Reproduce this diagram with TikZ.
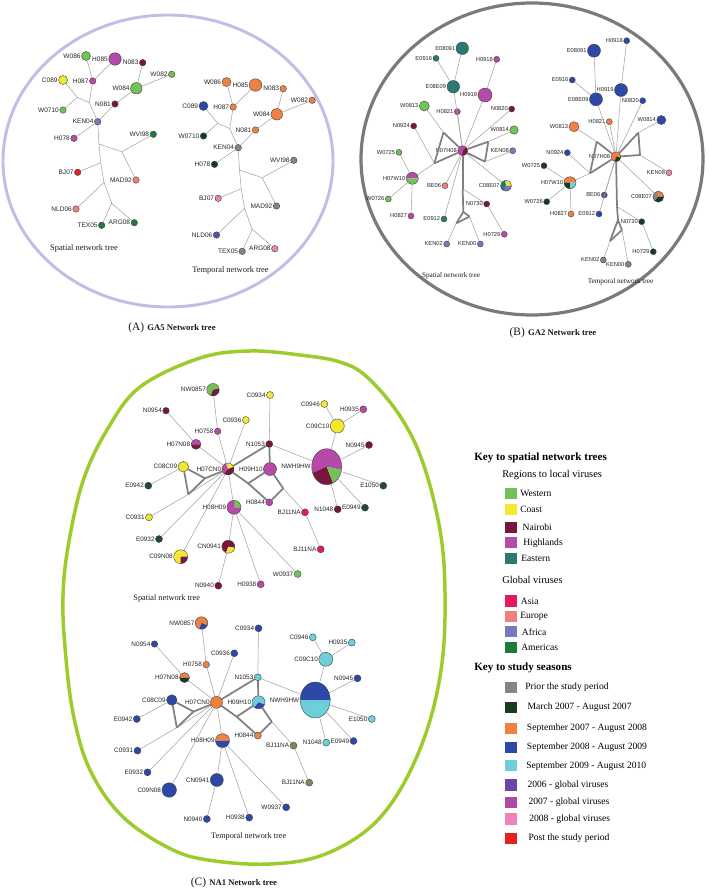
\documentclass[tikz,border=0pt]{standalone}
\usepackage{fontspec}
\setmainfont{Liberation Serif}
\setsansfont{Liberation Sans}
\usetikzlibrary{shapes.geometric}
\definecolor{cW}{HTML}{72C25A}
\definecolor{cC}{HTML}{F2E830}
\definecolor{cN}{HTML}{7A1540}
\definecolor{cH}{HTML}{B54AA8}
\definecolor{cE}{HTML}{2A7A72}
\definecolor{cE2}{HTML}{1F4D2E}
\definecolor{cAs}{HTML}{E8185A}
\definecolor{cEu}{HTML}{F08080}
\definecolor{cAf}{HTML}{7A78C0}
\definecolor{cAm}{HTML}{1E7A3C}
\definecolor{sP}{HTML}{858585}
\definecolor{s07}{HTML}{1A3A20}
\definecolor{s78}{HTML}{F28040}
\definecolor{s89}{HTML}{2E48A8}
\definecolor{s90}{HTML}{6CCFDA}
\definecolor{g06}{HTML}{6A48A8}
\definecolor{g07}{HTML}{B048A8}
\definecolor{g08}{HTML}{EE82BA}
\definecolor{sPo}{HTML}{E82020}
\definecolor{cOl}{HTML}{7D8C55}
\definecolor{ringA}{HTML}{C4BDE3}
\definecolor{ringB}{HTML}{7A7A7A}
\definecolor{ringC}{HTML}{9CCB2C}
% node: name, x, y, width px, height px, wedges, label
\newcommand\vn[7]{%
  \foreach \wa/\wb/\wc in {#6}{%
    \fill[\wc] (#2,#3) -- ++(\wa:#4*0.375pt and #5*0.375pt)
      arc[start angle=\wa, end angle=\wb, x radius=#4*0.375pt, y radius=#5*0.375pt] -- cycle;}%
  \node[vnd, minimum width=#4*0.75pt, minimum height=#5*0.75pt, label={[lbl]left:#7}] (#1) at (#2,#3) {};%
}
\newcommand\vc[6]{\vn{#1}{#2}{#3}{#4}{#4}{0/360/#5}{#6}}
\def\lbsz{4.9}
% ---------- panel A helpers
\newcommand\coordsA[1]{%
  \coordinate (#1J1) at (77.3,97.3);
  \coordinate (#1J2) at (89.3,102.7);
  \coordinate (#1T1) at (99,144);
  \coordinate (#1T1r) at (121.7,151.7);
  \coordinate (#1T2) at (100.7,162.7);
  \coordinate (#1T3) at (104,182.3);
  \coordinate (#1T4) at (111.7,203.3);
  \foreach \u/\v in {C089/J1, W0710/J1, J1/J2, H087/J2, KEN04/J2, H087/W086, H087/H085,
    KEN04/N081, N081/W084, W084/N083, W084/W082, KEN04/H078, KEN04/T1, T1/T1r,
    T1r/WVI98, T1r/MAD92, T1/T2, T2/BJ07, T2/T3, T3/NLD06, T3/T4, T4/TEX05, T4/ARG08}
    \draw[edg] (#1\u) -- (#1\v);
}
% ---------- panel C helpers
\newcommand\coordsC[1]{%
  \coordinate (#1Ja) at (248.2,483.4);
  \coordinate (#1Jb) at (283.2,488.4);
  \coordinate (#1Jr) at (205,478.3);
  \coordinate (#1Jbot) at (188.3,494.3);
  \foreach \u/\v in {NW0857/H0758, H0758/H07CN0, N0954/H07N08, H07N08/H07CN0, C0936/H07CN0,
    C0934/N1053, N1053/NWH9HW, Jb/BJa, BJa/BJb, NWH9HW/C09C10, C09C10/C0946, C09C10/H0935,
    NWH9HW/N0945, NWH9HW/E1050, NWH9HW/E0949, NWH9HW/N1048, H07CN0/H08H09, H08H09/CN0941,
    CN0941/N0940, H08H09/H0938, H08H09/W0937, C08C09/E0942, C0931/Jbot, Jbot/H07CN0,
    E0932/H07CN0, C09N08/H07CN0}
    \draw[edg] (#1\u) -- (#1\v);
  \foreach \u/\v in {H07CN0/N1053, N1053/H09H10, H07CN0/Ja, Ja/H09H10, Ja/H0844, H09H10/Jb,
    Jb/H0844, C08C09/Jr, Jr/H07CN0, C08C09/Jbot, Jbot/Jr}
    \draw[edgt] (#1\u) -- (#1\v);
}
\begin{document}
\begin{tikzpicture}[x=0.75pt,y=-0.75pt,
  vnd/.style={ellipse, draw=black!75, line width=0.3pt, inner sep=0pt, outer sep=0pt},
  lbl/.style={font=\sffamily\fontsize{\lbsz}{\lbsz}\selectfont, text=black!85, inner sep=0.5pt},
  edg/.style={draw=black!36, line width=0.4pt},
  edgt/.style={draw=black!50, line width=1.3pt},
  captxt/.style={inner sep=0pt, text=black!90},
  legh/.style={anchor=west, inner sep=0pt, font=\bfseries\fontsize{8.3}{9}\selectfont},
  legs/.style={anchor=west, inner sep=0pt, font=\fontsize{7.8}{9}\selectfont},
  legi/.style={anchor=west, inner sep=0pt, font=\fontsize{7.2}{9}\selectfont},
  swatch/.style={minimum width=9pt, minimum height=8.3pt, inner sep=0pt}]
\useasboundingbox (0,0) rectangle (709,889);
\fill[white] (0,0) rectangle (709,889);
% rings
\draw[ringA, line width=2.2pt] (168,161) ellipse [x radius=165, y radius=146];
\draw[ringB, line width=2.4pt] (532,159) ellipse [x radius=171, y radius=156];
\draw[ringC, line width=2.6pt] plot[smooth cycle, tension=0.6] coordinates {
 (250,351) (300,355) (340,362) (367,377) (400,416) (423,463) (440,530) (445,592)
 (442,663) (427,730) (400,790) (367,830) (320,856) (270,864) (215,861) (173,850)
 (123,817) (90,770) (73,713) (65,647) (63,597) (68,547) (83,481) (107,430)
 (140,387) (200,358)};
% ================= PANEL A spatial
\vc{asW086}{86}{56}{9}{cW}{W086}
\vc{asH085}{115}{59}{12.5}{cH}{H085}
\vc{asN083}{142.7}{62.7}{6.5}{cN}{N083}
\vc{asW082}{171.7}{74.3}{6.5}{cW}{W082}
\vc{asC089}{63}{80}{9}{cC}{C089}
\vc{asH087}{92.7}{81}{6.5}{cH}{H087}
\vc{asW084}{136.3}{88.3}{11.5}{cW}{W084}
\vc{asW0710}{63}{110}{6.5}{cW}{W0710}
\vc{asN081}{115}{104}{6.5}{cN}{N081}
\vc{asKEN04}{97.7}{121.7}{6.5}{cAf}{KEN04}
\vc{asH078}{74}{138.3}{6.5}{cH}{H078}
\vc{asWVI98}{153.3}{134.3}{6.5}{cAm}{WVI98}
\vc{asBJ07}{77.7}{172.3}{6.5}{sPo}{BJ07}
\vc{asMAD92}{136}{180}{6.5}{cEu}{MAD92}
\vc{asNLD06}{76}{209}{6.5}{cEu}{NLD06}
\vc{asTEX05}{101.7}{225.3}{6.5}{cAm}{TEX05}
\vc{asARG08}{134.3}{222.7}{6.5}{cAm}{ARG08}
\coordsA{as}
\node[captxt, font=\fontsize{6.3}{7}\selectfont] (asCap) at (84,248.7) {Spatial network tree};
% ================= PANEL A temporal
\begin{scope}[shift={(140.5,26)}]
\vc{atW086}{86}{56}{9}{s78}{W086}
\vc{atH085}{115}{59}{12.5}{s78}{H085}
\vc{atN083}{142.7}{62.7}{6.5}{s78}{N083}
\vc{atW082}{171.7}{74.3}{6.5}{s78}{W082}
\vc{atC089}{63}{80}{9}{s89}{C089}
\vc{atH087}{92.7}{81}{6.5}{s78}{H087}
\vc{atW084}{136.3}{88.3}{11.5}{s78}{W084}
\vc{atW0710}{63}{110}{6.5}{s07}{W0710}
\vc{atN081}{115}{104}{6.5}{s78}{N081}
\vc{atKEN04}{97.7}{121.7}{6.5}{sP}{KEN04}
\vc{atH078}{74}{138.3}{6.5}{s07}{H078}
\vc{atWVI98}{153.3}{134.3}{6.5}{sP}{WVI98}
\vc{atBJ07}{77.7}{172.3}{6.5}{g08}{BJ07}
\vc{atMAD92}{136}{180}{6.5}{sP}{MAD92}
\vc{atNLD06}{76}{209}{6.5}{g06}{NLD06}
\vc{atTEX05}{101.7}{225.3}{6.5}{sP}{TEX05}
\vc{atARG08}{134.3}{222.7}{6.5}{g08}{ARG08}
\coordsA{at}
\end{scope}
\node[captxt, font=\fontsize{6.3}{7}\selectfont] (atCap) at (230.5,270.7) {Temporal network tree};
\node[captxt] (titleA) at (172,328) {{\fontsize{8.5}{10}\selectfont (A)} {\bfseries\fontsize{6.5}{8}\selectfont GA5 Network tree}};
% ================= PANEL B spatial
\begin{scope}
\def\lbsz{4.3}
\vc{bsE08091}{462.3}{48.3}{12.5}{cE}{E08091}
\vc{bsE0916}{436}{58.3}{6}{cE}{E0916}
\vc{bsH0918}{496.7}{59.3}{6}{cH}{H0918}
\vc{bsE08E09}{453.3}{86.7}{12.5}{cE}{E08E09}
\vc{bsH0919}{485}{95}{14}{cH}{H0919}
\vc{bsW0813}{424.3}{106}{10}{cW}{W0813}
\vc{bsH0821}{457.3}{111.7}{6}{cH}{H0821}
\vc{bsN0820}{511.7}{109}{6}{cN}{N0820}
\vc{bsN0924}{413.7}{126}{6}{cN}{N0924}
\vc{bsW0814}{514}{130}{8.5}{cW}{W0814}
\vc{bsW0725}{399}{152.3}{6}{cW}{W0725}
\vn{bsN07H08}{462.7}{150.7}{10}{10}{45/260/cH,260/405/cN}{N07H08}
\vc{bsKEN08}{512.7}{150.7}{6}{cAf}{KEN08}
\vn{bsH07W10}{412.3}{178.3}{12}{12}{0/180/cH,180/360/cW}{H07W10}
\vc{bsBE06}{445}{185.7}{6}{cEu}{BE06}
\vn{bsC08E07}{506}{185.7}{11}{11}{0/100/cC,100/250/cE,250/360/cAf}{C08E07}
\vc{bsW0726}{388.3}{199}{6}{cW}{W0726}
\vc{bsN0730}{486.7}{204}{6}{cN}{N0730}
\vc{bsH0827}{411}{216}{6}{cH}{H0827}
\vc{bsE0912}{444}{219}{6}{cE}{E0912}
\vc{bsH0729}{504.3}{234.3}{6}{cH}{H0729}
\vc{bsKEN02}{446.7}{244}{6}{cAf}{KEN02}
\vc{bsKEN00}{480.3}{244}{6}{cAf}{KEN00}
\coordinate (bsL1) at (434.3,163.3);
\coordinate (bsL2) at (443.5,132.5);
\coordinate (bsR1) at (488.3,141.7);
\coordinate (bsR2) at (485,161.7);
\coordinate (bsB1) at (462.7,189);
\coordinate (bsB2) at (463.3,212);
\coordinate (bsB3) at (456.3,223.3);
\coordinate (bsB4) at (469.5,216.5);
\foreach \u/\v in {E08091/E08E09, E0916/E08E09, E08E09/N07H08, H0821/N07H08, H0918/H0919,
  H0919/N07H08, N0820/N07H08, W0813/L2, N0924/L1, H07W10/L1, H07W10/W0725, H07W10/W0726,
  H07W10/H0827, W0814/R1, KEN08/R2, BE06/N07H08, E0912/N07H08, C08E07/N07H08, B1/N0730,
  N0730/H0729, B3/KEN02, B4/KEN00}
  \draw[edg] (bs\u) -- (bs\v);
\foreach \u/\v in {L1/L2, L2/N07H08, L1/N07H08, N07H08/R1, R1/R2, R2/N07H08, N07H08/B1,
  B1/B2, B2/B3, B3/B4, B4/B2}
  \draw[edgt] (bs\u) -- (bs\v);
\end{scope}
\node[captxt, font=\fontsize{5.4}{6}\selectfont] (bsCap) at (451,276) {Spatial network tree};
% ================= PANEL B temporal
\begin{scope}
\def\lbsz{4.3}
\vc{btE08091}{594}{50.7}{13}{s89}{E08091}
\vc{btH0918}{626.7}{40.7}{6}{s89}{H0918}
\vc{btE0916}{572.3}{80}{6}{s89}{E0916}
\vc{btE08E09}{596}{99.3}{13}{s89}{E08E09}
\vc{btH0919}{621}{90}{13}{s89}{H0919}
\vc{btN0820}{642.7}{100.7}{6}{s89}{N0820}
\vc{btH0821}{609.3}{121.7}{6}{s78}{H0821}
\vc{btW0813}{574}{126.7}{10}{s78}{W0813}
\vc{btW0814}{661.3}{120}{9}{s89}{W0814}
\vc{btN0924}{567.3}{152.7}{6}{s89}{N0924}
\vn{btN07H08}{616}{156.7}{10}{10}{-10/255/s78,255/350/s07}{N07H08}
\vc{btW0725}{544}{165.7}{6}{s07}{W0725}
\vc{btKEN08}{669}{172.7}{6}{g08}{KEN08}
\vn{btH07W10}{570}{182.7}{12}{12}{0/180/s78,180/270/s07,270/360/s90}{H07W10}
\vc{btBE06}{604.3}{195}{6}{g06}{BE06}
\vn{btC08E07}{658.3}{196.7}{11}{11}{0/110/s78,110/230/sP,230/360/s07}{C08E07}
\vc{btW0726}{546.7}{201.7}{6}{s07}{W0726}
\vc{btH0827}{571}{214}{6}{s78}{H0827}
\vc{btE0912}{599}{214}{6}{s89}{E0912}
\vc{btN0730}{641.7}{221.7}{6}{s07}{N0730}
\vc{btH0729}{653.3}{251.7}{6}{s07}{H0729}
\vc{btKEN02}{603.3}{260}{6}{sP}{KEN02}
\vc{btKEN00}{628.3}{264.3}{6}{sP}{KEN00}
\coordinate (btL1) at (590,173.3);
\coordinate (btL2) at (596.7,141.7);
\coordinate (btR1) at (638.3,132.7);
\coordinate (btR2) at (640,155);
\coordinate (btB1) at (617,206.7);
\coordinate (btB2) at (618,220);
\coordinate (btB3) at (610,241);
\coordinate (btB4) at (622,230);
\foreach \u/\v in {E08091/E08E09, E0916/E08E09, E08E09/N07H08, H0821/N07H08, H0918/H0919,
  H0919/N07H08, N0820/N07H08, W0813/L2, N0924/L1, H07W10/L1, H07W10/W0725, H07W10/W0726,
  H07W10/H0827, W0814/R1, KEN08/R2, BE06/N07H08, E0912/N07H08, C08E07/N07H08, B1/N0730,
  N0730/H0729, B3/KEN02, B4/KEN00}
  \draw[edg] (bt\u) -- (bt\v);
\foreach \u/\v in {L1/L2, L2/N07H08, L1/N07H08, N07H08/R1, R1/R2, R2/N07H08, N07H08/B1,
  B1/B2, B2/B3, B3/B4, B4/B2}
  \draw[edgt] (bt\u) -- (bt\v);
\end{scope}
\node[captxt, font=\fontsize{5.4}{6}\selectfont] (btCap) at (620.5,281.7) {Temporal network tree};
\node[captxt] (titleB) at (553,333) {{\fontsize{8.5}{10}\selectfont (B)} {\bfseries\fontsize{6.5}{8}\selectfont GA2 Network tree}};
% ================= PANEL C spatial
\begin{scope}
\def\lbsz{4.8}
\vn{csNW0857}{213}{389.7}{12.5}{12.5}{10/250/cW,250/370/cN}{NW0857}
\vc{csN0954}{166}{410.7}{6.5}{cN}{N0954}
\vc{csC0934}{270}{395}{7}{cC}{C0934}
\vc{csC0936}{245.8}{420}{7}{cC}{C0936}
\vc{csH0758}{217.7}{431.3}{6.5}{cH}{H0758}
\vn{csH07N08}{196}{444.3}{10}{10}{0/180/cH,180/360/cN}{H07N08}
\vc{csN1053}{269.3}{444}{7}{cN}{N1053}
\vc{csC08C09}{183.3}{466.7}{10.5}{cC}{C08C09}
\vn{csH07CN0}{228}{469}{12}{12}{20/110/cC,110/230/cH,230/380/cN}{H07CN0}
\vc{csH09H10}{270}{469}{13}{cH}{H09H10}
\vn{csNWH9HW}{326.7}{466.7}{30}{36}{-10/200/cH,200/295/cN,295/350/cW}{NWH9HW}
\vc{csC0946}{324.3}{404}{7}{cC}{C0946}
\vc{csH0935}{363.3}{409.3}{7}{cH}{H0935}
\vc{csC09C10}{337.3}{426}{14}{cC}{C09C10}
\vc{csN0945}{369}{445}{7}{cN}{N0945}
\vc{csE1050}{383.3}{485.7}{7}{cE2}{E1050}
\vc{csE0949}{365}{507.7}{7}{cE2}{E0949}
\vc{csN1048}{337.7}{509.3}{7}{cN}{N1048}
\vc{csBJa}{305}{512.3}{7}{cAs}{BJ11NA}
\vc{csBJb}{320.7}{549.3}{7}{cAs}{BJ11NA}
\vc{csH0844}{269.3}{502.3}{7}{cH}{H0844}
\vn{csH08H09}{234}{507.3}{14}{14}{0/90/cW,90/360/cH}{H08H09}
\vc{csE0942}{148.3}{485.7}{7}{cE2}{E0942}
\vc{csC0931}{149}{517.3}{7}{cC}{C0931}
\vc{csE0932}{159}{539}{7}{cE2}{E0932}
\vn{csC09N08}{180.7}{556.7}{14}{14}{0/270/cC,270/360/cN}{C09N08}
\vn{csCN0941}{228.3}{546.7}{13}{13}{-10/250/cN,250/350/cC}{CN0941}
\vc{csN0940}{218.3}{585.7}{7}{cN}{N0940}
\vc{csH0938}{260.7}{584.3}{7}{cH}{H0938}
\vc{csW0937}{297.7}{574}{7}{cW}{W0937}
\coordsC{cs}
\end{scope}
\node[captxt, font=\fontsize{6.2}{7}\selectfont] (csCap) at (166.7,599) {Spatial network tree};
% ================= PANEL C temporal
\begin{scope}[shift={(-11.5,233.3)}]
\def\lbsz{4.8}
\vn{ctNW0857}{213}{389.7}{12.5}{12.5}{-20/250/s78,250/340/s89}{NW0857}
\vc{ctN0954}{166}{410.7}{6.5}{s89}{N0954}
\vc{ctC0934}{270}{395}{7}{s89}{C0934}
\vc{ctC0936}{245.8}{420}{7}{s89}{C0936}
\vc{ctH0758}{217.7}{431.3}{6.5}{s78}{H0758}
\vn{ctH07N08}{196}{444.3}{10}{10}{0/180/s78,180/360/s07}{H07N08}
\vc{ctN1053}{269.3}{444}{7}{s90}{N1053}
\vc{ctC08C09}{183.3}{466.7}{10.5}{s89}{C08C09}
\vc{ctH07CN0}{228}{469}{12}{s78}{H07CN0}
\vn{ctH09H10}{270}{469}{13}{13}{-20/230/s90,230/340/s89}{H09H10}
\vn{ctNWH9HW}{326.7}{466.7}{30}{36}{0/180/s89,180/360/s90}{NWH9HW}
\vc{ctC0946}{324.3}{404}{7}{s90}{C0946}
\vc{ctH0935}{363.3}{409.3}{7}{s90}{H0935}
\vc{ctC09C10}{337.3}{426}{14}{s90}{C09C10}
\vc{ctN0945}{369}{445}{7}{s89}{N0945}
\vc{ctE1050}{383.3}{485.7}{7}{s90}{E1050}
\vc{ctE0949}{365}{507.7}{7}{s89}{E0949}
\vc{ctN1048}{337.7}{509.3}{7}{s90}{N1048}
\vc{ctBJa}{305}{512.3}{7}{cOl}{BJ11NA}
\vc{ctBJb}{320.7}{549.3}{7}{cOl}{BJ11NA}
\vc{ctH0844}{269.3}{502.3}{7}{s78}{H0844}
\vn{ctH08H09}{234}{507.3}{14}{14}{0/180/s78,180/360/s89}{H08H09}
\vc{ctE0942}{148.3}{485.7}{7}{s89}{E0942}
\vc{ctC0931}{149}{517.3}{7}{s89}{C0931}
\vc{ctE0932}{159}{539}{7}{s89}{E0932}
\vc{ctC09N08}{180.7}{556.7}{14.5}{s89}{C09N08}
\vc{ctCN0941}{228.3}{546.7}{13}{s89}{CN0941}
\vc{ctN0940}{218.3}{585.7}{7}{s89}{N0940}
\vc{ctH0938}{260.7}{584.3}{7}{s89}{H0938}
\vc{ctW0937}{297.7}{574}{7}{s89}{W0937}
\coordsC{ct}
\end{scope}
\node[captxt, font=\fontsize{6.2}{7}\selectfont] (ctCap) at (248.7,836.7) {Temporal network tree};
\node[captxt] (titleC) at (234,883) {{\fontsize{8.5}{10}\selectfont (C)} {\bfseries\fontsize{6.5}{8}\selectfont NA1 Network tree}};
% ================= LEGEND
\node[legh] (k1) at (474,458.3) {Key to spatial network trees};
\node[legs] (k2) at (502,475) {Regions to local viruses};
\node[legs] (k3) at (502,580) {Global viruses};
\node[legh] (k4) at (474,668.3) {Key to study seasons};
\foreach \i/\y/\c/\t/\tx in {
  1/493.3/cW/Western/520, 2/509.3/cC/Coast/520, 3/527.7/cN/Nairobi/522.3,
  4/542.7/cH/Highlands/523, 5/558.7/cE/Eastern/521,
  6/601/cAs/Asia/520.7, 7/616.7/cEu/Europe/520, 8/631.7/cAf/Africa/521.7, 9/647.3/cAm/Americas/521,
  10/687.3/sP/Prior the study period/525, 11/707.3/s07/March 2007 - August 2007/527.3,
  12/728.3/s78/September 2007 - August 2008/526.7, 13/747.3/s89/September 2008 - August 2009/526.7,
  14/765.7/s90/September 2009 - August 2010/526, 15/785/g06/2006 - global viruses/527.3,
  16/802.3/g07/2007 - global viruses/528.3, 17/819/g08/2008 - global viruses/529,
  18/838.3/sPo/Post the study period/528.3}{
  \node[swatch, fill=\c] (sw\i) at (510.5,\y) {};
  \node[legi] (st\i) at (\tx,\y) {\t};
}
\end{tikzpicture}
\end{document}
